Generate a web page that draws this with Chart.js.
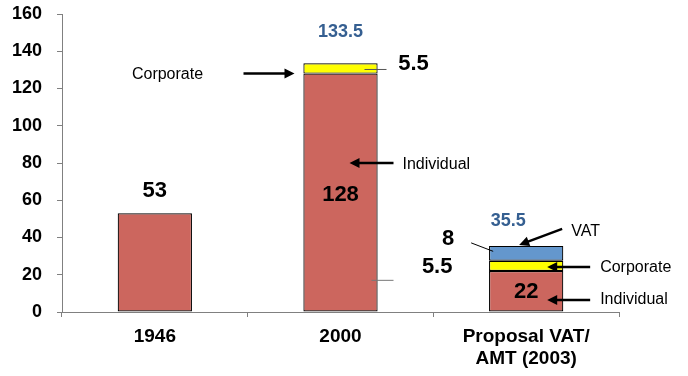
<!DOCTYPE html>
<html>
<head>
<meta charset="utf-8">
<script src="https://cdn.jsdelivr.net/npm/chart.js@4.4.0/dist/chart.umd.min.js"></script>
<style>
  html, body { margin: 0; padding: 0; background: #fff; }
  #wrap { width: 688px; height: 376px; }
</style>
</head>
<body>
<div id="wrap"><canvas id="myChart" width="688" height="376"></canvas></div>
<script>
const categories = ['1946', '2000', ['Proposal VAT/', 'AMT (2003)']]
const individual = [53, 128, 22]
const corporate = [null, 5.5, 5.5]
const vat = [null, null, 8]
const totals = [53, 133.5, 35.5]
const yTicks = [0, 20, 40, 60, 80, 100, 120, 140, 160]

const FONT = 'Liberation Sans, Arial, sans-serif'

function arrow(ctx, x1, y1, x2, y2) {
  const a = Math.atan2(y2 - y1, x2 - x1)
  const len = 10, w = 5
  ctx.save()
  ctx.strokeStyle = '#000'
  ctx.fillStyle = '#000'
  ctx.lineWidth = 2.5
  ctx.beginPath()
  ctx.moveTo(x1, y1)
  ctx.lineTo(x2 - Math.cos(a) * len * 0.8, y2 - Math.sin(a) * len * 0.8)
  ctx.stroke()
  ctx.beginPath()
  ctx.moveTo(x2, y2)
  ctx.lineTo(x2 - Math.cos(a) * len + Math.sin(a) * w, y2 - Math.sin(a) * len - Math.cos(a) * w)
  ctx.lineTo(x2 - Math.cos(a) * len - Math.sin(a) * w, y2 - Math.sin(a) * len + Math.cos(a) * w)
  ctx.closePath()
  ctx.fill()
  ctx.restore()
}

function text(ctx, str, x, y, size, bold, color, align) {
  ctx.save()
  ctx.font = (bold ? 'bold ' : '') + size + 'px ' + FONT
  ctx.fillStyle = color || '#000'
  ctx.textAlign = align || 'center'
  ctx.textBaseline = 'middle'
  ctx.fillText(str, x, y)
  ctx.restore()
}

function thin(ctx, x1, y1, x2, y2, color) {
  ctx.save()
  ctx.strokeStyle = color || '#000'
  ctx.lineWidth = 1
  ctx.beginPath()
  ctx.moveTo(x1, y1)
  ctx.lineTo(x2, y2)
  ctx.stroke()
  ctx.restore()
}

// labels, arrows and leader lines
const notes = {
  id: 'notes',
  afterDatasetsDraw(chart) {
    const ctx = chart.ctx
    const x = chart.scales.x, y = chart.scales.y
    const c0 = x.getPixelForValue(0), c1 = x.getPixelForValue(1), c2 = x.getPixelForValue(2)
    const half = 37

    // 1946
    text(ctx, String(individual[0]), c0, y.getPixelForValue(totals[0]) - 22, 22, true)

    // 2000
    const top1 = y.getPixelForValue(totals[1])
    const corp1 = y.getPixelForValue(individual[1] + corporate[1] / 2)
    text(ctx, String(totals[1]), c1, top1 - 31, 18, true, '#355F91')
    text(ctx, String(corporate[1]), c1 + 73, top1 + 1, 22, true)
    thin(ctx, c1 + 24, corp1 + 1, c1 + 46, corp1 + 1, '#555')
    text(ctx, String(individual[1]), c1, y.getPixelForValue(63), 22, true)
    text(ctx, 'Corporate', c1 - 173, corp1 + 6, 16, false)
    arrow(ctx, c1 - 97, corp1 + 5, c1 - 46, corp1 + 5)
    text(ctx, 'Individual', c1 + 62, y.getPixelForValue(79), 16, false, '#000', 'left')
    arrow(ctx, c1 + 53, y.getPixelForValue(80), c1 + 9, y.getPixelForValue(80))
    thin(ctx, c1 + 31, y.getPixelForValue(17), c1 + 53, y.getPixelForValue(17), '#777')

    // Proposal
    const top2 = y.getPixelForValue(totals[2])
    const vatMid = y.getPixelForValue(individual[2] + corporate[2] + vat[2] / 2)
    const corpMid = y.getPixelForValue(individual[2] + corporate[2] / 2)
    text(ctx, String(totals[2]), c2 - 18, top2 - 25, 18, true, '#355F91')
    text(ctx, String(vat[2]), c2 - 78, top2 - 7, 22, true)
    thin(ctx, c2 - 55, top2 - 3, c2 - 33, vatMid - 2)
    text(ctx, String(corporate[2]), c2 - 89, corpMid + 1, 22, true)
    text(ctx, String(individual[2]), c2, y.getPixelForValue(11), 22, true)
    text(ctx, 'VAT', c2 + 45, top2 - 14, 16, false, '#000', 'left')
    arrow(ctx, c2 + 36, top2 - 17, c2 - 7, top2 - 1)
    text(ctx, 'Corporate', c2 + 74, corpMid + 2, 16, false, '#000', 'left')
    arrow(ctx, c2 + 64, corpMid + 1, c2 + 21, corpMid + 1)
    text(ctx, 'Individual', c2 + 74, y.getPixelForValue(7) + 1, 16, false, '#000', 'left')
    arrow(ctx, c2 + 64, y.getPixelForValue(6.5), c2 + 21, y.getPixelForValue(6.5))
  }
}

const barStyle = { borderColor: '#000', borderWidth: 1.2, borderSkipped: false }

new Chart(document.getElementById('myChart').getContext('2d'), {
  type: 'bar',
  data: {
    labels: categories,
    datasets: [
      Object.assign({ label: 'Individual', data: individual, backgroundColor: '#CC665E' }, barStyle),
      Object.assign({ label: 'Corporate', data: corporate, backgroundColor: '#FFFF00' }, barStyle),
      Object.assign({ label: 'VAT', data: vat, backgroundColor: '#6497CD' }, barStyle)
    ]
  },
  options: {
    responsive: false,
    animation: false,
    devicePixelRatio: 1,
    layout: { padding: { top: 14, right: 69, left: 0, bottom: 0 } },
    datasets: { bar: { barPercentage: 0.4, categoryPercentage: 1 } },
    plugins: { legend: { display: false }, tooltip: { enabled: false } },
    scales: {
      x: {
        stacked: true,
        afterFit: s => { s.height = 64; s.paddingLeft = 0; s.paddingRight = 0 },
        border: { color: '#808080', width: 1 },
        grid: { drawOnChartArea: false, drawTicks: true, tickLength: 5, color: '#808080', offset: true },
        ticks: { color: '#000', padding: 8, font: { family: FONT, size: 19, weight: 'bold' } }
      },
      y: {
        stacked: true,
        min: 0,
        max: 160,
        afterFit: s => { s.width = 62; s.paddingTop = 0; s.paddingBottom = 0 },
        afterBuildTicks: s => { s.ticks = yTicks.map(v => ({ value: v })) },
        border: { color: '#808080', width: 1 },
        grid: { drawOnChartArea: false, drawTicks: true, tickLength: 5, color: '#808080' },
        ticks: { color: '#000', padding: 15, font: { family: FONT, size: 18, weight: 'bold' } }
      }
    }
  },
  plugins: [notes]
})
</script>
</body>
</html>
